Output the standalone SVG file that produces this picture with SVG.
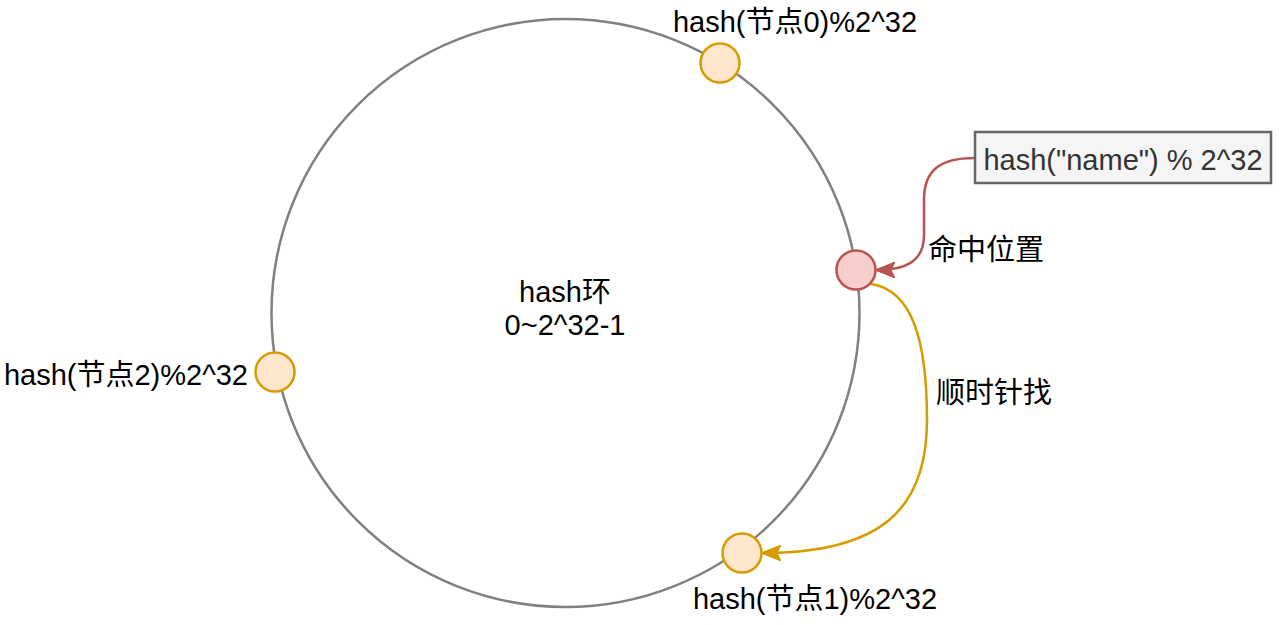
<svg xmlns="http://www.w3.org/2000/svg" width="1280" height="625" viewBox="0 0 1280 625">
<defs>
<style>
text{font-family:"Liberation Sans","Noto Sans CJK SC",sans-serif;font-size:29px;fill:#000}
.node{fill:#ffe6cc;stroke:#d79b00;stroke-width:2.5}
.hit{fill:#f8cecc;stroke:#b85450;stroke-width:2.5}
.ring{fill:none;stroke:#808080;stroke-width:2.5}
.c{fill:none;stroke-width:2.5}
</style>
<marker id="ar" viewBox="0 0 20 16" refX="18" refY="8" markerWidth="20" markerHeight="16" markerUnits="userSpaceOnUse" orient="auto">
<path d="M0,0 L20,8 L0,16 L4,8 Z" fill="#b85450" stroke="#b85450" stroke-width="1"/>
</marker>
<marker id="ay" viewBox="0 0 20 16" refX="18" refY="8" markerWidth="20" markerHeight="16" markerUnits="userSpaceOnUse" orient="auto">
<path d="M0,0 L20,8 L0,16 L4,8 Z" fill="#d79b00" stroke="#d79b00" stroke-width="1"/>
</marker>
</defs>
<rect width="1280" height="625" fill="#fff"/>
<g id="ring">
<circle class="ring" cx="565.5" cy="313" r="294"/>
<text x="565" y="302" text-anchor="middle">hash环</text>
<text x="565" y="335" text-anchor="middle">0~2^32-1</text>
</g>
<g id="connectors">
<path class="c" stroke="#b85450" d="M975,158 C940,158 924,170 924,200 L924,235 C924,262 905,270 877,270" marker-end="url(#ar)"/>
<path class="c" stroke="#d79b00" d="M871,284 C912,290 927,340 927,420 C927,510 880,553 763,553" marker-end="url(#ay)"/>
<text x="928" y="260">命中位置</text>
<text x="936" y="403">顺时针找</text>
</g>
<g id="node0">
<circle class="node" cx="720" cy="63" r="19.5"/>
<text x="795" y="32" text-anchor="middle">hash(节点0)%2^32</text>
</g>
<g id="node1">
<circle class="node" cx="742" cy="553" r="19.5"/>
<text x="815" y="609" text-anchor="middle">hash(节点1)%2^32</text>
</g>
<g id="node2">
<circle class="node" cx="275" cy="372" r="19.5"/>
<text x="248" y="385" text-anchor="end">hash(节点2)%2^32</text>
</g>
<g id="hit">
<circle class="hit" cx="856" cy="270" r="19.5"/>
</g>
<g id="key">
<rect x="975" y="132" width="296" height="51" fill="#f5f5f5" stroke="#666666" stroke-width="2.5"/>
<text x="1123" y="170" text-anchor="middle" style="fill:#333333">hash("name") % 2^32</text>
</g>
</svg>
